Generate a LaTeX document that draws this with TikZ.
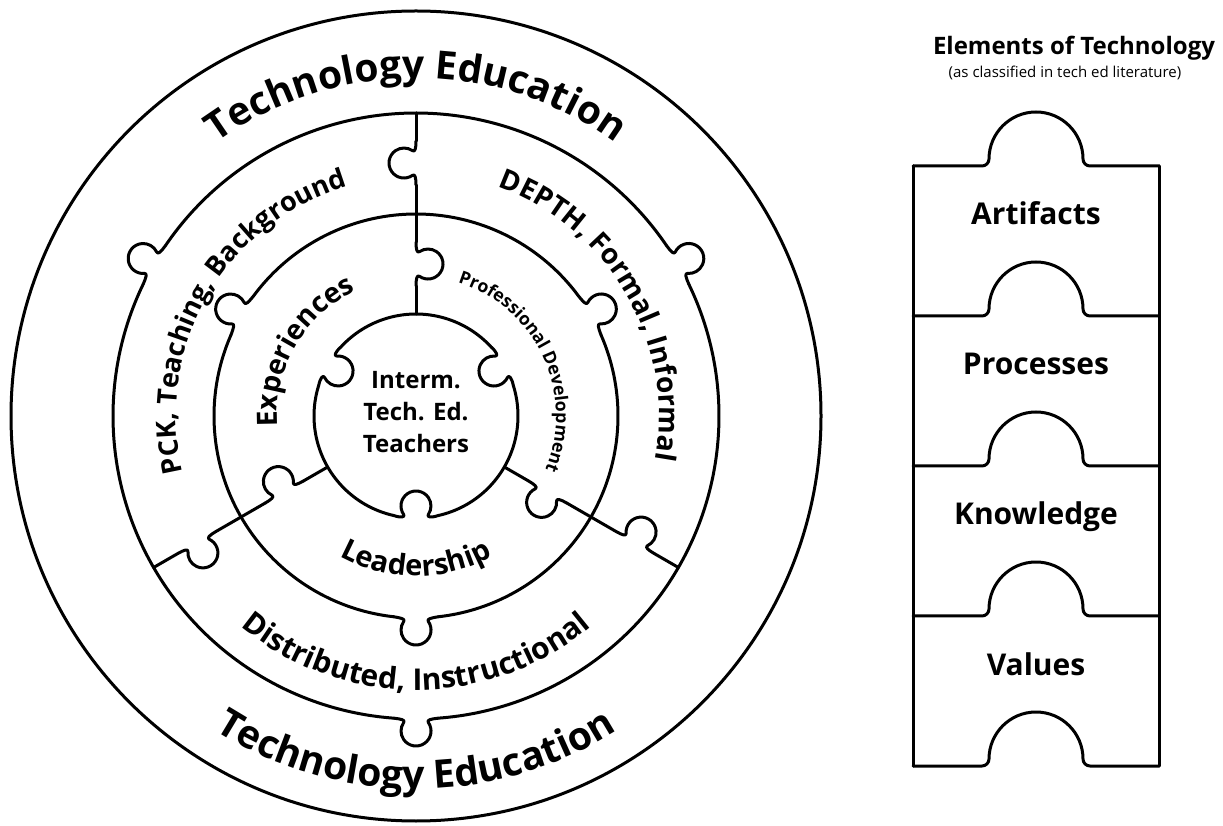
\documentclass[tikz,border=0pt]{standalone}
\usepackage{fontspec}
\setmainfont{Open Sans}
\usepackage{tikz}
\usetikzlibrary{decorations.text}

\begin{document}
\begin{tikzpicture}
		[x=1pt,y=1pt,
		puzzle/.style={line width=3pt,line join=round,line cap=round},
		pics/knob/.style={code={
			\draw (-22,#1) .. controls (-15,0) and (-10.6,0.9) .. (-12.3,3.4)
				arc[start angle=215,end angle=-35,radius=15]
				.. controls (10.6,0.9) and (15,0) .. (22,#1);
		}},
		pics/knob/.default=0,
		pics/tab/.style={code={
			\draw (-123,0) -- (-54,0) arc[start angle=-90,end angle=0,radius=7]
				arc[start angle=180,end angle=0,radius=47]
				arc[start angle=180,end angle=270,radius=7] -- (123,0);
		}},
		ringtext/.style={decorate,decoration={text along path,text align=center,text={#1}}},
		piece/.style={anchor=base,font=\bfseries\fontsize{30}{32}\selectfont}]
		\useasboundingbox (0,0) rectangle (1223,825);
		\begin{scope}[shift={(416,409)},puzzle]
			\draw (0,0) circle[radius=405];
			\foreach \r/\d/\s in {303/4.16/0.80,202/6.25/1.20}{
				\foreach \a in {30,150,270}{
					\draw (\a+\d:\r) arc[start angle=\a+\d,end angle=\a+120-\d,radius=\r];
					\pic[rotate=\a-90] at (\a:\r) {knob=-\s};
				}
			}
			\foreach \a in {30,150,270}{
				\draw (\a+12.46:102) arc[start angle=\a+12.46,end angle=\a+107.54,radius=102];
				\pic[rotate=\a+90] at (\a:102) {knob=2.40};
			}
			\foreach \a in {90,210,330}{
				\draw (\a:102) -- (\a:130) (\a:174) -- (\a:231) (\a:275) -- (\a:303);
				\pic[rotate=\a,yscale=-1] at (\a:152) {knob};
				\pic[rotate=\a] at (\a:253) {knob};
			}
			\path[ringtext={|\bfseries\fontsize{39}{42}\selectfont|Technology Education}]
				(135:338) arc[start angle=135,end angle=45,radius=338];
			\path[ringtext={|\bfseries\fontsize{39}{42}\selectfont|Technology Education}]
				(225:373) arc[start angle=225,end angle=315,radius=373];
			\path[ringtext={|\bfseries\fontsize{27}{30}\selectfont|PCK, Teaching, Background}]
				(210:240) arc[start angle=210,end angle=90,radius=240];
			\path[ringtext={|\bfseries\fontsize{28}{30}\selectfont|DEPTH, Formal, Informal}]
				(90:243) arc[start angle=90,end angle=-30,radius=243];
			\path[ringtext={|\bfseries\fontsize{30}{32}\selectfont|Distributed, Instructional}]
				(210:274) arc[start angle=210,end angle=330,radius=274];
			\path[ringtext={|\bfseries\fontsize{28}{30}\selectfont|Experiences}]
				(210:139) arc[start angle=210,end angle=90,radius=139];
			\path[ringtext={|\bfseries\fontsize{17.7}{20}\selectfont|Professional Development}]
				(85:140) arc[start angle=85,end angle=-35,radius=140];
			\path[ringtext={|\bfseries\fontsize{29}{30}\selectfont|Leadership}]
				(210:160) arc[start angle=210,end angle=330,radius=160];
		\end{scope}
		\node[align=center,font=\bfseries\fontsize{24}{32}\selectfont] (teachers) at (416,413) {Interm.\\Tech. Ed.\\Teachers};
		\begin{scope}[puzzle]
			\draw (913,59) -- (913,659) (1159,59) -- (1159,659);
			\foreach \y in {59,209,359,509,659}
				\pic at (1036,\y) {tab};
		\end{scope}
		\node[anchor=base,font=\bfseries\fontsize{24}{28}\selectfont] (elements) at (1074,770) {Elements of Technology};
		\node[anchor=base,font=\fontsize{15}{18}\selectfont] (classified) at (1065,747) {(as classified in tech ed literature)};
		\node[piece] (artifacts) at (1036,600) {Artifacts};
		\node[piece] (processes) at (1036,450) {Processes};
		\node[piece] (knowledge) at (1036,300) {Knowledge};
		\node[piece] (values) at (1036,150) {Values};
\end{tikzpicture}
\end{document}
